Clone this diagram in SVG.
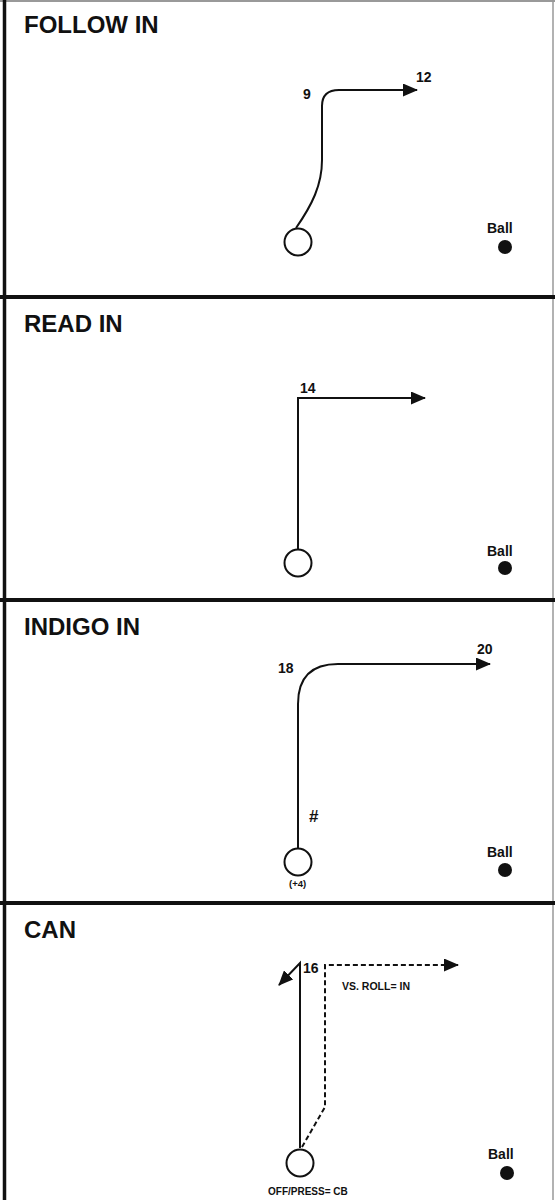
<svg xmlns="http://www.w3.org/2000/svg" width="555" height="1200" viewBox="0 0 555 1200">
<style>
.t{font-family:"Liberation Sans",Arial,sans-serif;font-weight:bold;fill:#111}
.title{font-size:24px}
.num{font-size:14px}
.ball{font-size:14px}
.route{fill:none;stroke:#111;stroke-width:2}
.dash{fill:none;stroke:#111;stroke-width:2;stroke-dasharray:5,3}
.player{fill:#fff;stroke:#111;stroke-width:2}
.div{stroke:#111;stroke-width:4}
</style>
<defs>
<marker id="arr" markerUnits="userSpaceOnUse" markerWidth="15" markerHeight="13" refX="14" refY="6.5" orient="auto">
<path d="M0,0 L15,6.5 L0,13 z" fill="#111"/>
</marker>
</defs>
<rect x="0" y="0" width="555" height="1200" fill="#fff"/>
<g id="frame">
<line x1="0" y1="1" x2="555" y2="1" stroke="#999" stroke-width="2"/>
<line x1="553" y1="0" x2="553" y2="1200" stroke="#999" stroke-width="1.5"/>
<line x1="4.5" y1="0" x2="4.5" y2="1200" stroke="#111" stroke-width="3.5"/>
<line class="div" x1="0" y1="297" x2="555" y2="297"/>
<line class="div" x1="0" y1="600" x2="555" y2="600"/>
<line class="div" x1="0" y1="903" x2="555" y2="903"/>
</g>
<g id="connectors">
<path class="route" d="M296,228 C312,205 322,185 322,160 L322,106 Q322,90 339,90 L417,90" marker-end="url(#arr)"/>
<path class="route" d="M298,549 L298,398 L425,398" marker-end="url(#arr)"/>
<path class="route" d="M298,848 L298,704 Q298,664 338,664 L490,664" marker-end="url(#arr)"/>
<path class="route" d="M300,1148 L300,963 L279,985" marker-end="url(#arr)"/>
<path class="dash" d="M302,1147 L325,1107 L325,965 L458,965" marker-end="url(#arr)"/>
</g>
<g id="panel-follow-in">
<text class="t title" x="24" y="33">FOLLOW IN</text>
<circle class="player" cx="298" cy="242" r="13.5"/>
<text class="t num" x="303" y="99">9</text>
<text class="t num" x="416" y="82">12</text>
<text class="t ball" x="487" y="233">Ball</text>
<circle cx="505" cy="247" r="7" fill="#111"/>
</g>
<g id="panel-read-in">
<text class="t title" x="24" y="332">READ IN</text>
<circle class="player" cx="298" cy="563" r="13.5"/>
<text class="t num" x="300" y="393">14</text>
<text class="t ball" x="487" y="556">Ball</text>
<circle cx="505" cy="568" r="7" fill="#111"/>
</g>
<g id="panel-indigo-in">
<text class="t title" x="24" y="635">INDIGO IN</text>
<circle class="player" cx="298" cy="862" r="13.5"/>
<text class="t num" x="278" y="673">18</text>
<text class="t num" x="477" y="654">20</text>
<text class="t" x="309" y="822" font-size="17">#</text>
<text class="t" x="289" y="887" font-size="9.5">(+4)</text>
<text class="t ball" x="487" y="857">Ball</text>
<circle cx="505" cy="870" r="7" fill="#111"/>
</g>
<g id="panel-can">
<text class="t title" x="24" y="938">CAN</text>
<circle class="player" cx="300" cy="1163" r="13.5"/>
<text class="t num" x="303" y="973">16</text>
<text class="t" x="342" y="990" font-size="10.5">VS. ROLL= IN</text>
<text class="t" x="268" y="1195" font-size="10">OFF/PRESS= CB</text>
<text class="t ball" x="488" y="1159">Ball</text>
<circle cx="507" cy="1173" r="7" fill="#111"/>
</g>
</svg>
